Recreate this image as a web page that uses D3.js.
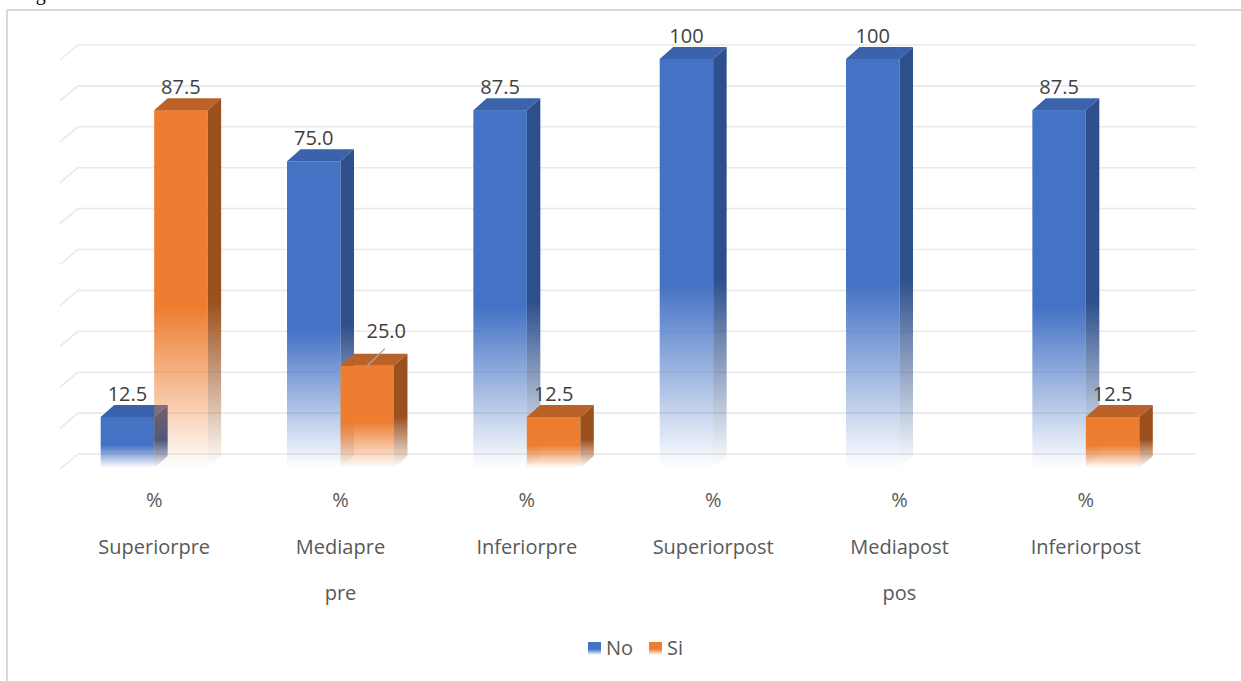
<!DOCTYPE html>
<html>
<head>
<meta charset="utf-8">
<script src="https://cdn.jsdelivr.net/npm/d3@7"></script>
<style>
  html, body { margin: 0; padding: 0; background: #ffffff; }
  svg { display: block; }
</style>
</head>
<body>
<svg id="chart" width="1241" height="681"></svg>
<script>
// Categories: each axis label is split into stacked lines
const categories = ["Superiorpre", "Mediapre", "Inferiorpre", "Superiorpost", "Mediapost", "Inferiorpost"];
const categoryLines = [
  ["%", "Superiorpre"],
  ["%", "Mediapre", "pre"],
  ["%", "Inferiorpre"],
  ["%", "Superiorpost"],
  ["%", "Mediapost", "pos"],
  ["%", "Inferiorpost"]
];
const seriesNames = ["No", "Si"];
const noValues = [12.5, 75.0, 87.5, 100, 100, 87.5];
const siValues = [87.5, 25.0, 12.5, 0, 0, 12.5];
const gridTicks = [0, 10, 20, 30, 40, 50, 60, 70, 80, 90, 100];

const svg = d3.select("#chart");
const W = 1241, H = 681;
const FONT = "'Open Sans', 'DejaVu Sans', sans-serif";

// Outer frame (only the top and left edges fall inside the view)
svg.append("text")
  .attr("x", 19).attr("y", 0)
  .attr("font-family", "'Liberation Serif', serif")
  .attr("font-size", 20).attr("fill", "#000")
  .text("Figura");
svg.append("line").attr("x1", 7).attr("x2", W).attr("y1", 10).attr("y2", 10)
  .attr("stroke", "#d9d9d9").attr("stroke-width", 2);
svg.append("line").attr("x1", 7).attr("x2", 7).attr("y1", 10).attr("y2", H)
  .attr("stroke", "#d9d9d9").attr("stroke-width", 2);

// 3D projection: back wall scale plus offsets toward the viewer
const y = d3.scaleLinear().domain([0, 100]).range([454, 45]);
const x = d3.scaleBand().domain(categories).range([78, 1196]).paddingInner(0).paddingOuter(0);
const floorDepth = { dx: -18, dy: 15 };   // back wall -> front edge of floor
const barFront = { dx: -17, dy: 14 };     // back wall -> bar front face
const barDepth = { dx: 13.5, dy: -12 };   // bar front face -> bar back face
const barW = x.bandwidth() * 0.287;

// Gridlines: along the back wall and down the left side wall
const grid = svg.append("g");
gridTicks.forEach(t => {
  grid.append("line")
    .attr("x1", x.range()[0]).attr("x2", x.range()[1])
    .attr("y1", y(t)).attr("y2", y(t))
    .attr("stroke", "#e9e9e9").attr("stroke-width", 1.6);
  grid.append("line")
    .attr("x1", x.range()[0] + floorDepth.dx).attr("y1", y(t) + floorDepth.dy)
    .attr("x2", x.range()[0]).attr("y2", y(t))
    .attr("stroke", "#e9e9e9").attr("stroke-width", 1.6);
});

// Fading gradients (opaque at the top, dissolving toward the floor)
const defs = svg.append("defs");
const palette = {
  No: { front: "#4472C4", top: "#3B63AB", side: "#2D4F8C" },
  Si: { front: "#ED7D31", top: "#BA6228", side: "#9C501D" }
};
function fadeGradient(id, color) {
  const g = defs.append("linearGradient").attr("id", id)
    .attr("x1", 0).attr("y1", 0).attr("x2", 0).attr("y2", 1);
  [[0, 1], [0.55, 1], [0.8, 0.45], [1, 0]].forEach(([o, a]) => {
    g.append("stop").attr("offset", o).attr("stop-color", color).attr("stop-opacity", a);
  });
}
seriesNames.forEach(s => {
  fadeGradient("front-" + s, palette[s].front);
  fadeGradient("side-" + s, palette[s].side);
});

// Bars
const yF = v => y(v) + barFront.dy;
const centerFront = c => x(c) + x.bandwidth() / 2 + barFront.dx;
const fmt = d3.format(".3r");

const bars = svg.append("g");
const labels = svg.append("g");
categories.forEach((c, i) => {
  const series = [
    { s: "No", v: noValues[i], x0: centerFront(c) - barW },
    { s: "Si", v: siValues[i], x0: centerFront(c) }
  ];
  series.forEach(d => {
    if (d.v <= 0) return;
    const x0 = d.x0, x1 = d.x0 + barW;
    const top = yF(d.v), bot = yF(0);
    const g = bars.append("g");
    g.append("rect")
      .attr("x", x0).attr("y", top).attr("width", barW).attr("height", bot - top)
      .attr("fill", `url(#front-${d.s})`);
    g.append("path")
      .attr("d", `M${x0},${top}L${x1},${top}L${x1 + barDepth.dx},${top + barDepth.dy}L${x0 + barDepth.dx},${top + barDepth.dy}Z`)
      .attr("fill", palette[d.s].top);
    g.append("path")
      .attr("d", `M${x1},${top}L${x1 + barDepth.dx},${top + barDepth.dy}L${x1 + barDepth.dx},${bot + barDepth.dy}L${x1},${bot}Z`)
      .attr("fill", `url(#side-${d.s})`);

    // Value label above the bar; the short Mediapre "Si" bar gets a leader line
    const cx = x0 + barW / 2;
    let lx = cx, ly = top + barDepth.dy - 4;
    if (c === "Mediapre" && d.s === "Si") {
      lx = cx + 19; ly = top - 28;
      labels.append("line")
        .attr("x1", cx).attr("y1", top)
        .attr("x2", cx + 17.5).attr("y2", top - 17)
        .attr("stroke", "#a6a6a6").attr("stroke-width", 1.3);
    }
    labels.append("text")
      .attr("x", lx).attr("y", ly)
      .attr("text-anchor", "middle")
      .attr("font-family", FONT).attr("font-size", 20).attr("fill", "#404040")
      .text(fmt(d.v));
  });
});

// Category labels below the floor
const axis = svg.append("g");
categories.forEach((c, i) => {
  const cx = x(c) + x.bandwidth() / 2 + floorDepth.dx + 1;
  categoryLines[i].forEach((line, k) => {
    axis.append("text")
      .attr("x", cx).attr("y", 507 + k * 46.5)
      .attr("text-anchor", "middle")
      .attr("font-family", FONT).attr("font-size", 20).attr("fill", "#595959")
      .text(line);
  });
});

// Legend
const legendDefs = [
  { s: "No", sx: 588, tx: 606 },
  { s: "Si", sx: 649, tx: 667 }
];
const legend = svg.append("g");
legendDefs.forEach(l => {
  legend.append("rect")
    .attr("x", l.sx).attr("y", 642).attr("width", 13).attr("height", 13)
    .attr("fill", `url(#front-${l.s})`);
  legend.append("text")
    .attr("x", l.tx).attr("y", 655)
    .attr("font-family", FONT).attr("font-size", 20).attr("fill", "#595959")
    .text(l.s);
});
</script>
</body>
</html>
